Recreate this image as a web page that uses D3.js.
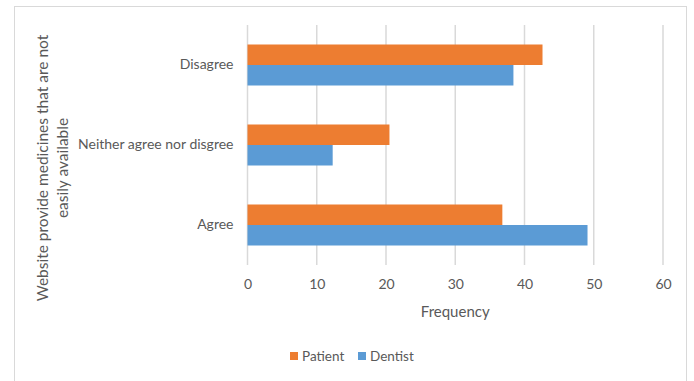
<!DOCTYPE html>
<html>
<head>
<meta charset="utf-8">
<script src="https://cdn.jsdelivr.net/npm/d3@7"></script>
<style>
  body { margin: 0; background: #fff; }
  text { font-family: Lato, "Open Sans", sans-serif; fill: #595959; }
</style>
</head>
<body>
<div id="chart"></div>
<script>
const categories = ['Disagree', 'Neither agree nor disgree', 'Agree'];
const seriesNames = ['Patient', 'Dentist'];
const patient = [42.6, 20.5, 36.8];
const dentist = [38.4, 12.3, 49.1];
const xTicks = [0, 10, 20, 30, 40, 50, 60];
const colors = ['#ED7D31', '#5B9BD5'];

const w = 694;
const h = 381;
const m = { left: 247.5, right: 31, top: 25, bottom: 116 };

const svg = d3.select('#chart')
  .append('svg')
    .attr('width', w)
    .attr('height', h);

svg.append('rect')
    .attr('x', 14.5)
    .attr('y', 6.5)
    .attr('width', 672)
    .attr('height', 380)
    .attr('fill', '#fff')
    .attr('stroke', '#d9d9d9');

const x = d3.scaleLinear()
  .domain([0, 60])
  .range([m.left, w - m.right]);

const y = d3.scaleBand()
  .domain(categories)
  .range([m.top, h - m.bottom])
  .paddingInner(0.4875)
  .paddingOuter(0.24375);

const ySub = d3.scaleBand()
  .domain(seriesNames)
  .range([0, y.bandwidth()]);

// gridlines
svg.append('g')
  .selectAll('line')
  .data(xTicks)
  .enter()
  .append('line')
    .attr('x1', d => x(d))
    .attr('x2', d => x(d))
    .attr('y1', m.top)
    .attr('y2', h - m.bottom)
    .attr('stroke', '#d9d9d9')
    .attr('stroke-width', 1.5);

const rows = categories.map((c, i) => ({ cat: c, vals: [patient[i], dentist[i]] }));

const groups = svg.append('g')
  .selectAll('g')
  .data(rows)
  .enter()
  .append('g')
    .attr('transform', d => `translate(0, ${y(d.cat)})`);

groups.selectAll('rect')
  .data(d => d.vals.map((v, j) => ({ name: seriesNames[j], v, j })))
  .enter()
  .append('rect')
    .attr('x', x(0))
    .attr('y', d => ySub(d.name))
    .attr('width', d => x(d.v) - x(0))
    .attr('height', ySub.bandwidth())
    .attr('fill', d => colors[d.j]);

// x tick labels
const xAxis = d3.axisBottom(x).tickValues(xTicks).tickSize(0).tickPadding(14);
const gx = svg.append('g')
    .attr('transform', `translate(0, ${h - m.bottom})`)
  .call(xAxis);
gx.select('.domain').remove();
gx.selectAll('text')
    .style('font-size', '14px')
    .attr('fill', '#595959');

// y category labels
const yAxis = d3.axisLeft(y).tickSize(0).tickPadding(14);
const gy = svg.append('g')
    .attr('transform', `translate(${m.left}, 0)`)
  .call(yAxis);
gy.select('.domain').remove();
gy.selectAll('text')
    .style('font-size', '14px')
    .attr('fill', '#595959');

svg.append('text')
    .attr('x', (x(0) + x(60)) / 2)
    .attr('y', 317)
    .attr('text-anchor', 'middle')
    .style('font-size', '15px')
    .text('Frequency');

const yTitle = svg.append('text')
    .attr('transform', 'translate(48, 168) rotate(-90)')
    .attr('text-anchor', 'middle')
    .style('font-size', '15.5px');
yTitle.append('tspan').attr('x', 0).attr('dy', 0).text('Website provide medicines that are not');
yTitle.append('tspan').attr('x', 0).attr('dy', 20).text('easily available');

// legend
const legend = svg.append('g')
  .selectAll('g')
  .data(seriesNames)
  .enter()
  .append('g')
    .attr('transform', (d, i) => `translate(${290 + i * 68}, 356)`);

legend.append('rect')
    .attr('x', 0)
    .attr('y', -4)
    .attr('width', 8)
    .attr('height', 8)
    .attr('fill', (d, i) => colors[i]);

legend.append('text')
    .attr('x', 12)
    .attr('y', 5)
    .style('font-size', '13.5px')
    .text(d => d);
</script>
</body>
</html>
